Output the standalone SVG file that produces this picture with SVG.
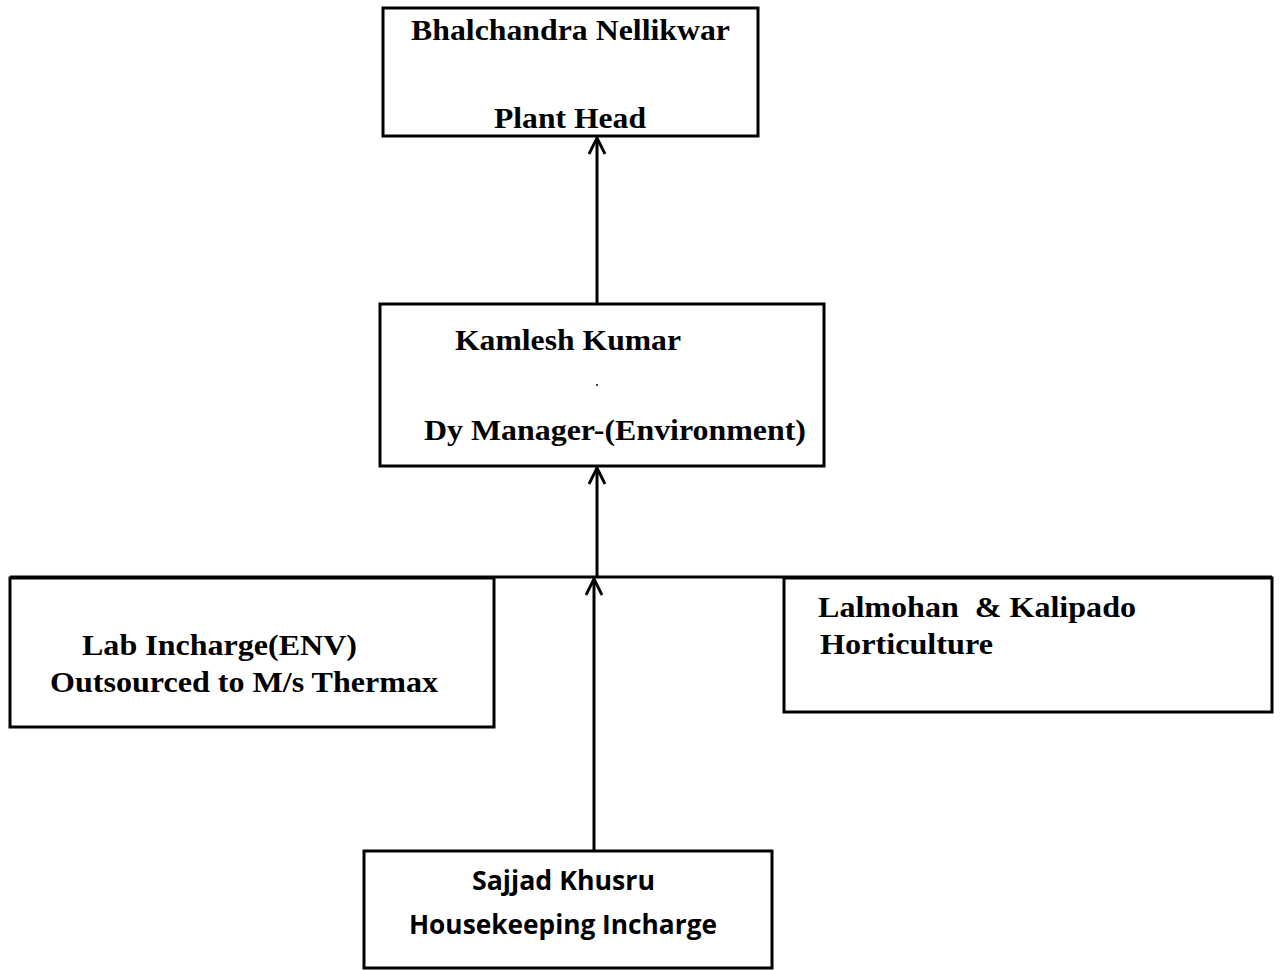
<svg xmlns="http://www.w3.org/2000/svg" width="1280" height="970" viewBox="0 0 1280 970">
<defs>
<style>
.box{fill:#fff;stroke:#000;stroke-width:3}
.t{font-family:"Liberation Serif","Times New Roman",serif;font-weight:bold;font-size:29px;fill:#000;white-space:pre}
.c{font-family:"Open Sans","Liberation Sans",sans-serif;font-weight:700;font-size:26px;fill:#000}
.ln{stroke:#000;stroke-width:3;fill:none}
</style>
<marker id="ah" viewBox="0 0 24 24" refX="20" refY="12" markerWidth="24" markerHeight="24" markerUnits="userSpaceOnUse" orient="auto">
<path d="M4 4 L20 12 L4 20" fill="none" stroke="#000" stroke-width="2.8"/>
</marker>
</defs>
<rect width="1280" height="970" fill="#fff"/>
<g id="connectors">
<line class="ln" x1="597" y1="303" x2="597" y2="138" marker-end="url(#ah)"/>
<line class="ln" x1="597" y1="577" x2="597" y2="468" marker-end="url(#ah)"/>
<line class="ln" x1="10" y1="577" x2="1272" y2="577"/>
<line class="ln" x1="594" y1="850" x2="594" y2="579" marker-end="url(#ah)"/>
</g>
<g id="plant-head">
<rect class="box" x="383" y="8" width="375" height="128"/>
<text class="t" x="411" y="40" textLength="319" lengthAdjust="spacingAndGlyphs">Bhalchandra Nellikwar</text>
<text class="t" x="494" y="128" textLength="152" lengthAdjust="spacingAndGlyphs">Plant Head</text>
</g>
<g id="dy-manager">
<rect class="box" x="380" y="304" width="444" height="162"/>
<text class="t" x="455" y="350" textLength="226" lengthAdjust="spacingAndGlyphs">Kamlesh Kumar</text>
<circle cx="597" cy="385" r="1" fill="#000"/>
<text class="t" x="424" y="440" textLength="382" lengthAdjust="spacingAndGlyphs">Dy Manager-(Environment)</text>
</g>
<g id="lab-incharge">
<rect class="box" x="10" y="578" width="484" height="149"/>
<text class="t" x="82" y="655" textLength="275" lengthAdjust="spacingAndGlyphs">Lab Incharge(ENV)</text>
<text class="t" x="50" y="692" textLength="388" lengthAdjust="spacingAndGlyphs">Outsourced to M/s Thermax</text>
</g>
<g id="horticulture">
<rect class="box" x="784" y="578" width="488" height="134"/>
<text class="t" x="818" y="617" textLength="318" lengthAdjust="spacingAndGlyphs" xml:space="preserve">Lalmohan  &amp; Kalipado</text>
<text class="t" x="820" y="654" textLength="173" lengthAdjust="spacingAndGlyphs">Horticulture</text>
</g>
<g id="housekeeping">
<rect class="box" x="364" y="851" width="408" height="117"/>
<text class="c" x="472" y="890" textLength="183" lengthAdjust="spacingAndGlyphs">Sajjad Khusru</text>
<text class="c" x="409" y="934" textLength="308" lengthAdjust="spacingAndGlyphs">Housekeeping Incharge</text>
</g>
</svg>
